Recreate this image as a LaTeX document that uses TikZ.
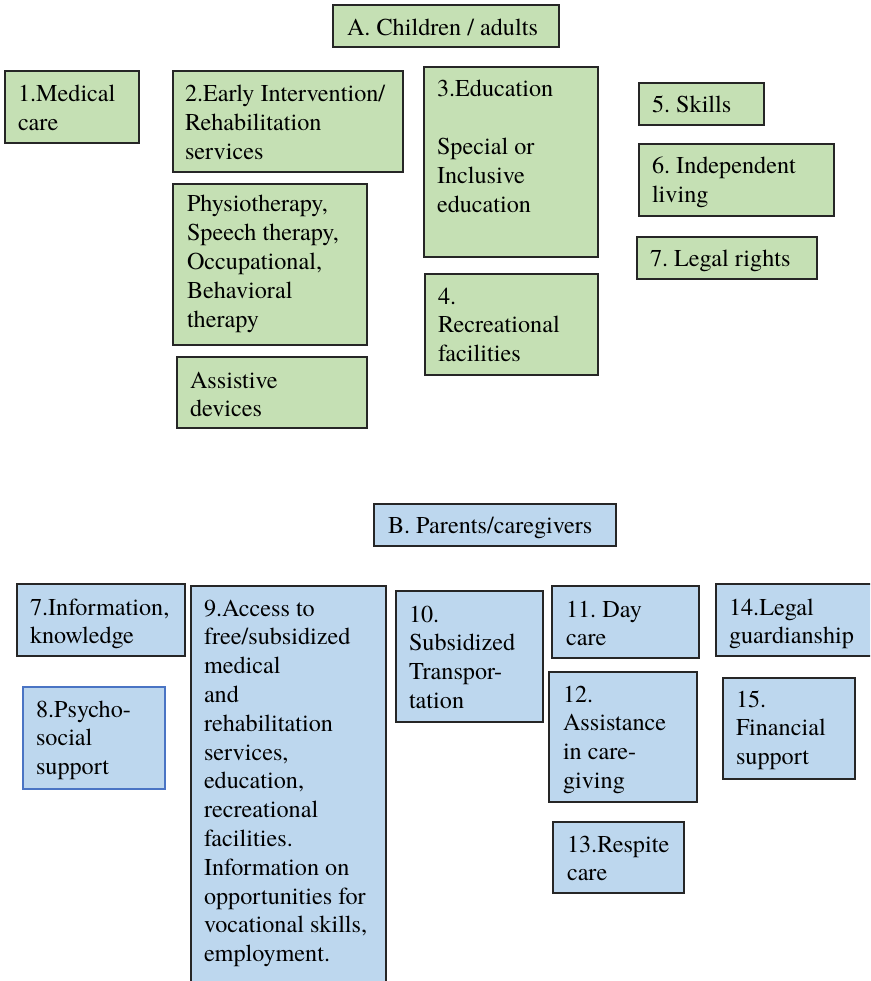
\documentclass[tikz,border=0pt]{standalone}
\usepackage{fontspec}
\setmainfont{TeX Gyre Termes}
\frenchspacing
\definecolor{greenfill}{HTML}{C5E0B4}
\definecolor{bluefill}{HTML}{BDD7EE}
\definecolor{boxline}{HTML}{262626}
\definecolor{blueline}{HTML}{4A74C4}
% stacked lines, baseline on the first line
\newcommand{\boxlines}[1]{\begin{tabular}[t]{@{}l@{}}#1\end{tabular}}
\tikzset{
  panel/.style={draw=boxline, line width=1.3pt, inner sep=0pt, outer sep=0pt, anchor=north west},
  gbox/.style={panel, fill=greenfill},
  bbox/.style={panel, fill=bluefill},
  txt/.style={inner sep=0pt, outer sep=0pt, anchor=base west,
    font=\rmfamily\fontsize{24.2}{28.8}\selectfont\frenchspacing},
}
\begin{document}
\begin{tikzpicture}[x=1pt, y=-1pt]
\path[use as bounding box, clip] (0,0) rectangle (870,981);
\fill[white] (0,0) rectangle (870,981);

% ---- A. children / adults ----
\node[gbox, minimum width=226, minimum height=42] (hA) at (333,5) {};
\node[txt] (tA) at (347,36) {A. Children / adults};

\node[gbox, minimum width=134, minimum height=72] (b1) at (5,71) {};
\node[txt] (t1) at (18,102) {\boxlines{1.Medical\\care}};

\node[gbox, minimum width=230, minimum height=101] (b2) at (173,71) {};
\node[txt] (t2) at (185,102) {\boxlines{2.Early Intervention/\\Rehabilitation\\services}};

\node[gbox, minimum width=194, minimum height=161] (b2a) at (173,184) {};
\node[txt] (t2a) at (187,212) {\boxlines{Physiotherapy,\\Speech therapy,\\Occupational,\\Behavioral\\therapy}};

\node[gbox, minimum width=190, minimum height=71] (b2b) at (177,357) {};
\node[txt] (t2b) at (190,388) {\boxlines{Assistive\\devices}};

\node[gbox, minimum width=174, minimum height=190] (b3) at (424,67) {};
\node[txt] (t3) at (437,97) {\boxlines{3.Education\\[28.8pt]Special or\\Inclusive\\education}};

\node[gbox, minimum width=173, minimum height=101] (b4) at (425,274) {};
\node[txt] (t4) at (438,304) {\boxlines{4.\\Recreational\\facilities}};

\node[gbox, minimum width=125, minimum height=42] (b5) at (639,83) {};
\node[txt] (t5) at (652,113) {5. Skills};

\node[gbox, minimum width=195, minimum height=72] (b6) at (639,144) {};
\node[txt] (t6) at (652,174) {\boxlines{6. Independent\\living}};

\node[gbox, minimum width=180, minimum height=42] (b7) at (637,237) {};
\node[txt] (t7) at (650,267) {7. Legal rights};

% ---- B. parents / caregivers ----
\node[bbox, minimum width=242, minimum height=42] (hB) at (374,504) {};
\node[txt] (tB) at (388,533) {B. Parents/caregivers};

\node[bbox, minimum width=168, minimum height=72] (c7) at (17,584) {};
\node[txt] (u7) at (30,615) {\boxlines{7.Information,\\knowledge}};

\node[bbox, draw=blueline, line width=1.1pt, minimum width=142, minimum height=102] (c8) at (23,687) {};
\node[txt] (u8) at (36,717) {\boxlines{8.Psycho-\\social\\support}};

\node[bbox, minimum width=195, minimum height=420] (c9) at (191,586) {};
\node[txt] (u9) at (204,616) {\boxlines{9.Access to\\free/subsidized\\medical\\and\\rehabilitation\\services,\\education,\\recreational\\facilities.\\Information on\\opportunities for\\vocational skills,\\employment.}};

\node[bbox, minimum width=147, minimum height=131] (c10) at (396,591) {};
\node[txt] (u10) at (409,622) {\boxlines{10.\\Subsidized\\Transpor-\\tation}};

\node[bbox, minimum width=147, minimum height=72] (c11) at (552,586) {};
\node[txt] (u11) at (566,617) {\boxlines{11. Day\\care}};

\node[bbox, minimum width=148, minimum height=130] (c12) at (549,672) {};
\node[txt] (u12) at (563,702) {\boxlines{12.\\Assistance\\in care-\\giving}};

\node[bbox, minimum width=131, minimum height=71] (c13) at (553,822) {};
\node[txt] (u13) at (567,852) {\boxlines{13.Respite\\care}};

\node[bbox, minimum width=170, minimum height=72] (c14) at (716,584) {};
\node[txt] (u14) at (729,615) {\boxlines{14.Legal\\guardianship}};

\node[bbox, minimum width=132, minimum height=101] (c15) at (723,678) {};
\node[txt] (u15) at (736,707) {\boxlines{15.\\Financial\\support}};
\end{tikzpicture}
\end{document}
